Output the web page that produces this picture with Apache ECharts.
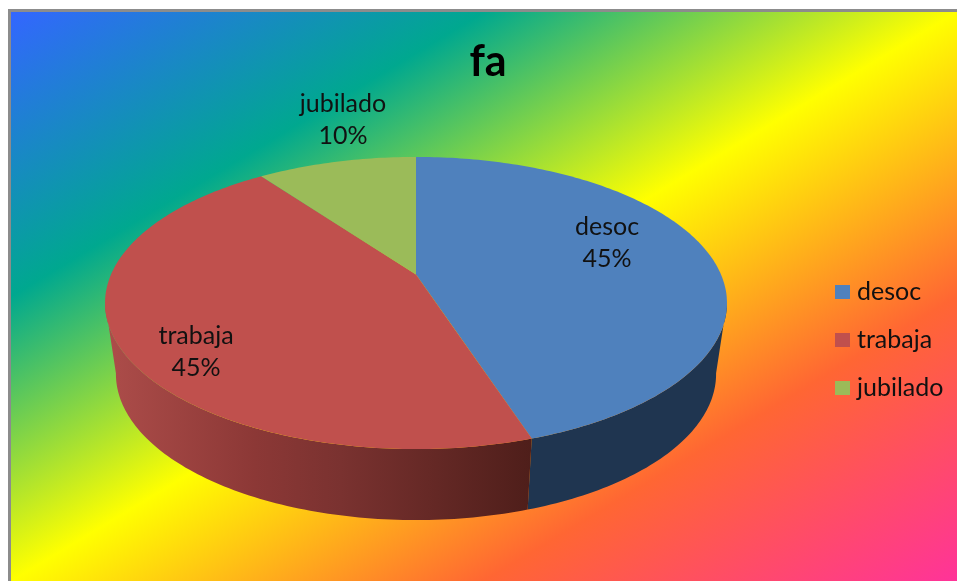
<!DOCTYPE html>
<html>
<head>
<meta charset="utf-8">
<style>html,body{margin:0;padding:0;background:#fff}#c{width:957px;height:581px}</style>
<script src="https://cdn.jsdelivr.net/npm/echarts@6/dist/echarts.min.js"></script>
</head>
<body>
<div id="c"></div>
<script>
// ---- data ----
const categories = ['desoc', 'trabaja', 'jubilado'];
const values = [45, 45, 10];
const chartTitle = 'fa';
// ---- styles / layout ----
const topColors = ['#4F81BD', '#C0504D', '#9BBB59'];
const wallStops = [
  [{o: 0, c: '#1F3550'}, {o: 1, c: '#1F3550'}],
  [{o: 0, c: '#AD4D4A'}, {o: 0.35, c: '#8C3836'}, {o: 0.55, c: '#7A3230'}, {o: 1, c: '#4E1E1A'}],
  [{o: 0, c: '#6B8239'}, {o: 1, c: '#6B8239'}]
];
const labelAnchors = [[607, 243], [196, 352], [343, 120]];
const bgBox = {x: 11, y: 12, w: 946, h: 569};
const bgStops = ['#3366FF', '#00A88F', '#FFFF00', '#FF6633', '#FF3399'];
// perspective of the pie disc
const P = {cx: 416, cy: 274.5, b: 305, a: 87, k: -0.195, drop: 71, shrink: 0.965};

function topPoint(deg) {
  const t = deg * Math.PI / 180, x = Math.sin(t), y = -Math.cos(t), w = 1 + P.k * y;
  return {X: P.cx + P.b * x / w, Y: (P.cy + P.a * y) / w};
}
function bottomPoint(deg) {
  const p = topPoint(deg);
  return {X: P.cx + (p.X - P.cx) * P.shrink, Y: p.Y + P.drop};
}
// the wall shows only between the disc's rightmost and leftmost points
let frontStart = 90, frontEnd = 270;
for (let a = 0; a < 360; a += 0.5) {
  if (topPoint(a).X > topPoint(frontStart).X) frontStart = a;
  if (topPoint(a).X < topPoint(frontEnd).X) frontEnd = a;
}
const total = values.reduce((s, v) => s + v, 0);
const starts = [];
values.reduce((s, v, i) => { starts[i] = s; return s + v; }, 0);

function arcPoints(a0, a1, fn) {
  const n = Math.max(8, Math.ceil(a1 - a0)), pts = [];
  for (let j = 0; j <= n; j++) {
    const p = fn(a0 + (a1 - a0) * j / n);
    pts.push([p.X, p.Y]);
  }
  return pts;
}

function sliceItem(i) {
  return function () {
    const a0 = starts[i] / total * 360, a1 = (starts[i] + values[i]) / total * 360;
    const w0 = Math.max(a0, frontStart), w1 = Math.min(a1, frontEnd);
    const face = [[P.cx, P.cy]].concat(arcPoints(a0, a1, topPoint));
    const pct = Math.round(values[i] / total * 100) + '%';
    const children = [];
    if (w1 > w0) {
      children.push({
        type: 'polygon', z2: 1,
        shape: {points: arcPoints(w0, w1, topPoint).concat(arcPoints(w0, w1, bottomPoint).reverse())},
        style: {
          fill: new echarts.graphic.LinearGradient(105, 0, 533, 0,
            wallStops[i].map(s => ({offset: s.o, color: s.c})), true)
        }
      });
    }
    children.push({type: 'polygon', z2: 10, shape: {points: face}, style: {fill: topColors[i]}});
    children.push({
      type: 'text', z2: 20,
      style: {
        text: categories[i] + '\n' + pct,
        x: labelAnchors[i][0], y: labelAnchors[i][1],
        align: 'center', verticalAlign: 'middle',
        fontFamily: 'Lato', fontSize: 25, lineHeight: 32, fill: '#111'
      }
    });
    return {type: 'group', children: children};
  };
}

const nx = bgBox.h, ny = bgBox.w;
const f = 2 * bgBox.w * bgBox.h / (nx * nx + ny * ny);
const bgGrad = new echarts.graphic.LinearGradient(
  bgBox.x, bgBox.y, bgBox.x + f * nx, bgBox.y + f * ny,
  bgStops.map((c, i) => ({offset: i / (bgStops.length - 1), color: c})), true);

const chart = echarts.init(document.getElementById('c'), null, {renderer: 'canvas'});
chart.setOption({
  animation: false,
  backgroundColor: '#fff',
  title: {
    text: chartTitle, left: 483, top: 36, textAlign: 'center',
    textStyle: {fontFamily: 'Lato', fontWeight: 'bold', fontSize: 43, color: '#000'}
  },
  legend: {
    orient: 'vertical', left: 830, top: 273,
    itemWidth: 15, itemHeight: 14, itemGap: 20,
    data: categories.map(c => ({name: c, icon: 'rect'})),
    textStyle: {fontFamily: 'Lato', fontSize: 25, color: '#111', padding: [0, 0, 0, 2], lineHeight: 28},
    selectedMode: false
  },
  graphic: [
    {type: 'rect', z: 0, shape: {x: 8, y: 9, width: 949, height: 572}, style: {fill: '#8C8C8C'}},
    {type: 'rect', z: 1, shape: {x: bgBox.x, y: bgBox.y, width: bgBox.w, height: bgBox.h}, style: {fill: bgGrad}}
  ],
  series: categories.map((name, i) => ({
    type: 'custom', name: name, coordinateSystem: 'none',
    itemStyle: {color: topColors[i]},
    silent: true,
    data: [values[i]],
    renderItem: sliceItem(i)
  }))
});
</script>
</body>
</html>
